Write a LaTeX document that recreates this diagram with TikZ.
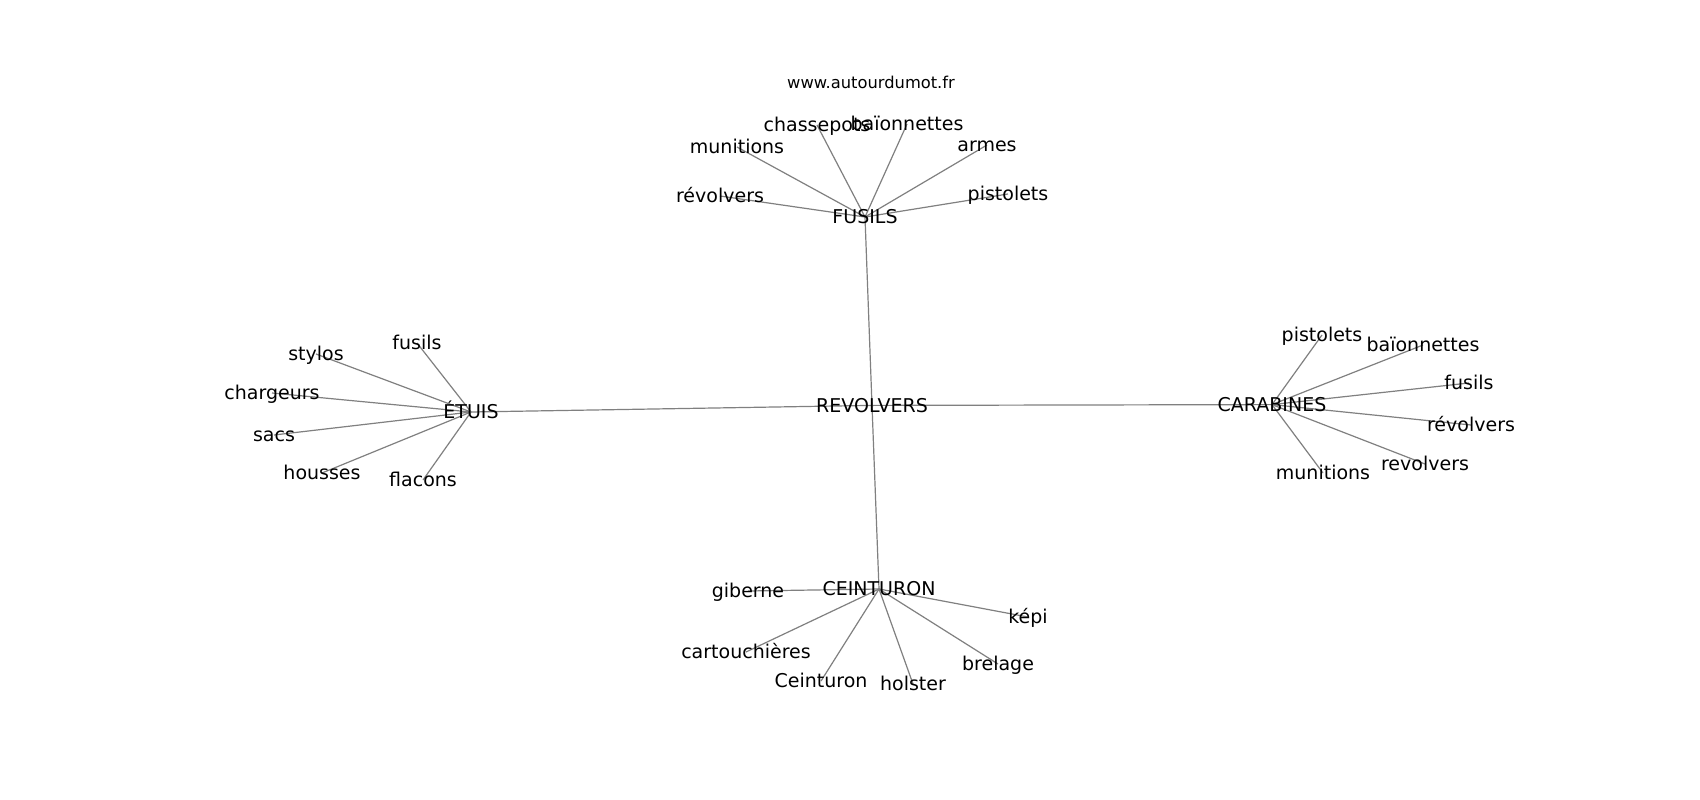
\documentclass[tikz,border=0pt]{standalone}
\usepackage{fontspec}
\setmainfont{DejaVu Sans}
\usetikzlibrary{backgrounds}
\begin{document}
\begin{tikzpicture}[x=1pt,y=-1pt,
  lbl/.style={inner sep=0pt, text height=13.8pt, text depth=0pt, font=\fontsize{19pt}{22pt}\selectfont},
  ttl/.style={inner sep=0pt, text height=11.8pt, text depth=0pt, font=\fontsize{16.3pt}{19pt}\selectfont},
  edge/.style={draw=gray, line width=1.2pt}]
\useasboundingbox (0,0) rectangle (1700,800);
\node[ttl] (title) at (871,83) {www.autourdumot.fr};
% hubs
\node[lbl] (rev) at (872,405.4) {REVOLVERS};
\node[lbl] (fus) at (865,217) {FUSILS};
\node[lbl] (etu) at (471,412) {ÉTUIS};
\node[lbl] (car) at (1272,404.6) {CARABINES};
\node[lbl] (cei) at (879,589) {CEINTURON};
% FUSILS leaves
\node[lbl] (f1) at (817,125) {chassepots};
\node[lbl] (f2) at (907,124) {baïonnettes};
\node[lbl] (f3) at (737,147) {munitions};
\node[lbl] (f4) at (987,145) {armes};
\node[lbl] (f5) at (720,196) {révolvers};
\node[lbl] (f6) at (1008,194) {pistolets};
% CARABINES leaves
\node[lbl] (c1) at (1322,335) {pistolets};
\node[lbl] (c2) at (1423,345) {baïonnettes};
\node[lbl] (c3) at (1469,383) {fusils};
\node[lbl] (c4) at (1471,425) {révolvers};
\node[lbl] (c5) at (1425,464) {revolvers};
\node[lbl] (c6) at (1323,473) {munitions};
% ETUIS leaves
\node[lbl] (e1) at (417,343) {fusils};
\node[lbl] (e2) at (316,354) {stylos};
\node[lbl] (e3) at (272,393) {chargeurs};
\node[lbl] (e4) at (274,435) {sacs};
\node[lbl] (e5) at (322,473) {housses};
\node[lbl] (e6) at (423,480) {flacons};
% CEINTURON leaves
\node[lbl] (g1) at (748,591) {giberne};
\node[lbl] (g2) at (1028,617) {képi};
\node[lbl] (g3) at (746,652) {cartouchières};
\node[lbl] (g4) at (998,664) {brelage};
\node[lbl] (g5) at (821,681) {Ceinturon};
\node[lbl] (g6) at (913,684) {holster};
\begin{scope}[on background layer]
\fill[white] (0,0) rectangle (1700,800);
\foreach \a/\b in {rev/fus,rev/etu,rev/car,rev/cei,
  fus/f1,fus/f2,fus/f3,fus/f4,fus/f5,fus/f6,
  car/c1,car/c2,car/c3,car/c4,car/c5,car/c6,
  etu/e1,etu/e2,etu/e3,etu/e4,etu/e5,etu/e6,
  cei/g1,cei/g2,cei/g3,cei/g4,cei/g5,cei/g6}
  \draw[edge] (\a.center) -- (\b.center);
\end{scope}
\end{tikzpicture}
\end{document}
